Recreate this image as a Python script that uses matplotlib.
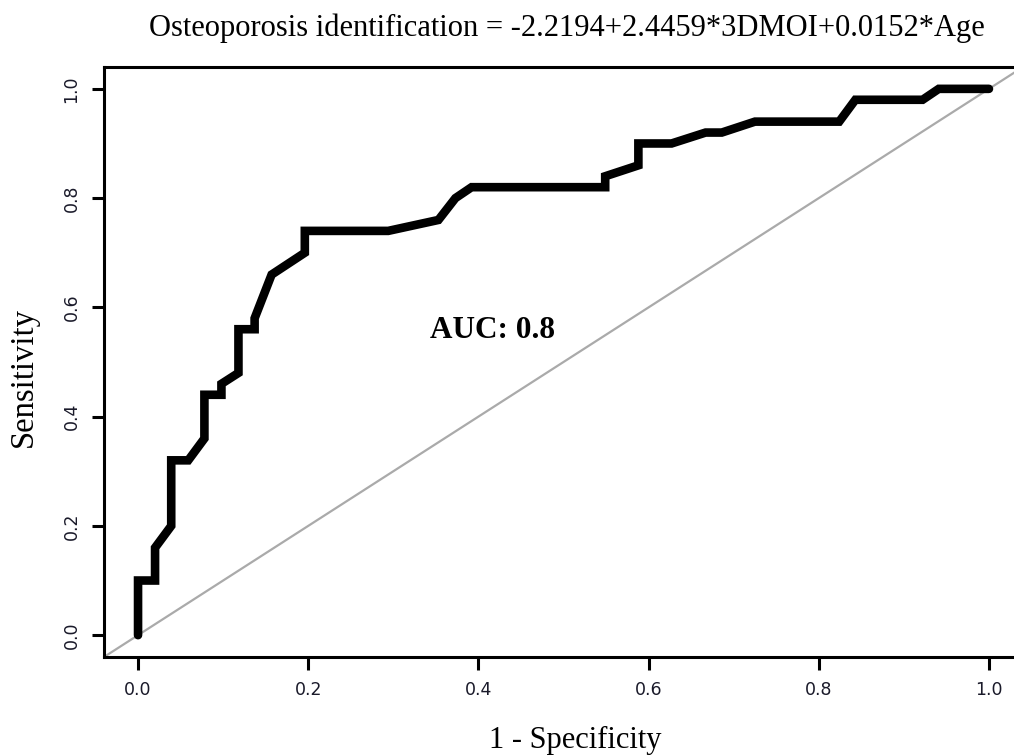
import matplotlib
matplotlib.use('Agg')
import matplotlib.pyplot as plt

# ROC curve (1 - specificity, sensitivity)
fpr = [0.0, 0.0, 0.020, 0.020, 0.039, 0.039, 0.059, 0.078, 0.078, 0.098, 0.098,
       0.118, 0.118, 0.137, 0.137, 0.157, 0.196, 0.196, 0.275, 0.294, 0.353,
       0.373, 0.392, 0.549, 0.549, 0.588, 0.588, 0.627, 0.667, 0.686, 0.725,
       0.824, 0.843, 0.922, 0.941, 1.0]
tpr = [0.0, 0.10, 0.10, 0.16, 0.20, 0.32, 0.32, 0.36, 0.44, 0.44, 0.46,
       0.48, 0.56, 0.56, 0.58, 0.66, 0.70, 0.74, 0.74, 0.74, 0.76,
       0.80, 0.82, 0.82, 0.84, 0.86, 0.90, 0.90, 0.92, 0.92, 0.94,
       0.94, 0.98, 0.98, 1.0, 1.0]

ticks = [0.0, 0.2, 0.4, 0.6, 0.8, 1.0]
tick_labels = ['0.0', '0.2', '0.4', '0.6', '0.8', '1.0']
title = 'Osteoporosis identification = -2.2194+2.4459*3DMOI+0.0152*Age'
auc_text = 'AUC: 0.8'

serif = 'Liberation Serif'

fig = plt.figure(figsize=(10.14, 7.55), dpi=100, facecolor='white')
# right edge of the box runs past the figure, as in the cropped original
ax = fig.add_axes([104 / 1014, 98 / 755, 919 / 1014, 590 / 755])

ax.axline((0, 0), (1, 1), color='#aaaaaa', lw=1.6, zorder=1)
ax.plot(fpr, tpr, color='black', lw=6.2, solid_capstyle='round',
        solid_joinstyle='miter', zorder=2)

ax.set_xlim(-0.04, 1.04)
ax.set_ylim(-0.04, 1.04)
ax.set_xticks(ticks)
ax.set_xticklabels(tick_labels)
ax.set_yticks(ticks)
ax.set_yticklabels(tick_labels, rotation=90, va='center')
ax.tick_params(axis='both', direction='out', length=9, width=2.2,
               labelsize=12.5, labelcolor='#1a1a2a', pad=8)

for s in ax.spines.values():
    s.set_linewidth(2.2)

ax.set_xlabel('1 - Specificity', fontfamily=serif, fontsize=22)
ax.xaxis.set_label_coords(0.513, -0.1407)
ax.xaxis.label.set_va('center')
ax.set_ylabel('Sensitivity', fontfamily=serif, fontsize=23.5)
ax.yaxis.set_label_coords(-0.087, 0.4746)
ax.yaxis.label.set_va('center')

ax.text(0.504, 1.066, title, transform=ax.transAxes, ha='center', va='center',
        fontfamily=serif, fontsize=22)
ax.text(0.416, 0.557, auc_text, ha='center', va='center',
        fontfamily=serif, fontweight='bold', fontsize=22.5)

fig.savefig('out.png', dpi=100, facecolor='white')
